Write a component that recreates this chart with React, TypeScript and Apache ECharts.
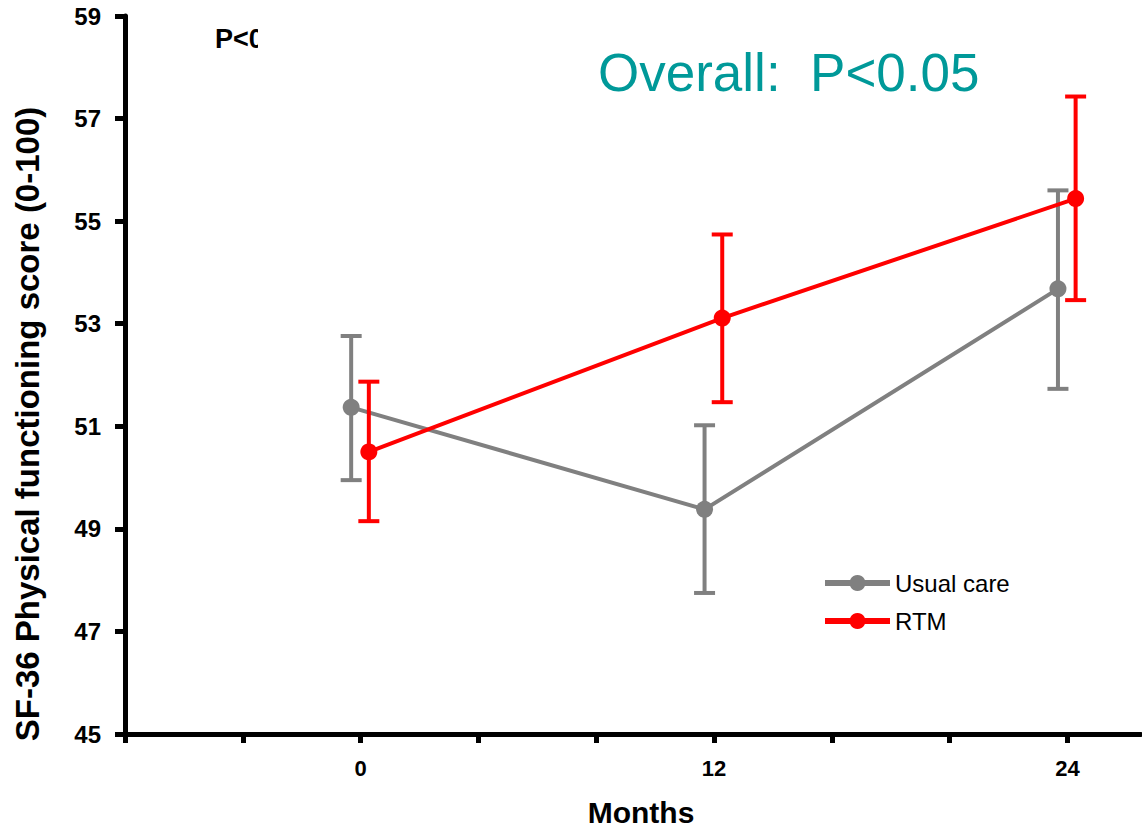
import React, { useEffect, useRef } from "react";
import * as echarts from "echarts";

// ---- data ----
const months = [0, 12, 24];
const usualMean = [51.37, 49.38, 53.68];
const usualLow = [49.95, 47.75, 51.73];
const usualHigh = [52.76, 51.02, 55.6];
const rtmMean = [50.5, 53.11, 55.44];
const rtmLow = [49.15, 51.47, 53.46];
const rtmHigh = [51.87, 54.74, 57.43];
const xTickValues = [-8, -4, 0, 4, 8, 12, 16, 20, 24];
const xLabelValues = [0, 12, 24];
const seriesNames = ["Usual care", "RTM"];

// horizontal dodge of each group (months)
const USUAL_SHIFT = -0.32;
const RTM_SHIFT = 0.28;

const FONT = "'Liberation Sans', Arial, Helvetica, sans-serif";
const GRAY = "#808080";
const RED = "#ff0000";

function meanData(means: number[], shift: number) {
  return months.map((m, i) => [m + shift, means[i]]);
}
function errData(lo: number[], hi: number[], shift: number) {
  return months.map((m, i) => [m + shift, lo[i], hi[i]]);
}

function errorBarRender(color: string) {
  return (params: any, api: any) => {
    const x = api.value(0);
    const lo = api.coord([x, api.value(1)]);
    const hi = api.coord([x, api.value(2)]);
    const half = 10.5;
    const style = { stroke: color, lineWidth: 4, lineCap: "butt" };
    return {
      type: "group",
      children: [
        { type: "line", shape: { x1: lo[0], y1: lo[1], x2: hi[0], y2: hi[1] }, style },
        { type: "line", shape: { x1: hi[0] - half, y1: hi[1], x2: hi[0] + half, y2: hi[1] }, style },
        { type: "line", shape: { x1: lo[0] - half, y1: lo[1], x2: lo[0] + half, y2: lo[1] }, style },
      ],
    };
  };
}

export default function App() {
  const ref = useRef<HTMLDivElement>(null);

  useEffect(() => {
    if (!ref.current) return;
    const chart = echarts.init(ref.current, undefined, { renderer: "svg" });
    const option: any = {
      animation: false,
      backgroundColor: "#ffffff",
      grid: { left: 125, top: 16, bottom: 95, right: 1 },
      xAxis: {
        type: "value",
        min: -8,
        max: 26.5,
        interval: 4,
        splitLine: { show: false },
        axisLine: { show: true, onZero: false, lineStyle: { color: "#000", width: 5 } },
        axisTick: {
          show: true,
          length: 9,
          lineStyle: { color: "#000", width: 5 },
          customValues: xTickValues,
        },
        axisLabel: {
          customValues: xLabelValues,
          margin: 23,
          color: "#000",
          fontSize: 22,
          fontWeight: "bold",
          fontFamily: FONT,
        },
      },
      yAxis: {
        type: "value",
        min: 45,
        max: 59,
        interval: 2,
        splitLine: { show: false },
        axisLine: { show: true, onZero: false, lineStyle: { color: "#000", width: 5 } },
        axisTick: { show: true, length: 10, lineStyle: { color: "#000", width: 5 } },
        axisLabel: {
          margin: 24,
          color: "#000",
          fontSize: 24,
          fontWeight: "bold",
          fontFamily: FONT,
        },
      },
      legend: {
        data: seriesNames,
        orient: "vertical",
        left: 817,
        top: 566,
        itemWidth: 65,
        itemHeight: 20,
        itemGap: 14,
        lineStyle: { width: 6 },
        textStyle: { color: "#000", fontSize: 24, fontFamily: FONT },
      },
      series: [
        {
          name: "Usual care bars",
          type: "custom",
          z: 2,
          renderItem: errorBarRender(GRAY),
          encode: { x: 0, y: [1, 2] },
          data: errData(usualLow, usualHigh, USUAL_SHIFT),
        },
        {
          name: seriesNames[0],
          type: "line",
          z: 3,
          symbol: "circle",
          symbolSize: 17,
          itemStyle: { color: GRAY },
          lineStyle: { color: GRAY, width: 4 },
          data: meanData(usualMean, USUAL_SHIFT),
        },
        {
          name: "RTM bars",
          type: "custom",
          z: 4,
          renderItem: errorBarRender(RED),
          encode: { x: 0, y: [1, 2] },
          data: errData(rtmLow, rtmHigh, RTM_SHIFT),
        },
        {
          name: seriesNames[1],
          type: "line",
          z: 5,
          symbol: "circle",
          symbolSize: 17,
          itemStyle: { color: RED },
          lineStyle: { color: RED, width: 4 },
          data: meanData(rtmMean, RTM_SHIFT),
        },
      ],
      graphic: [
        {
          type: "text",
          x: 27,
          y: 424,
          rotation: Math.PI / 2,
          style: {
            text: "SF-36 Physical functioning score (0-100)",
            fill: "#000",
            font: `bold 33px ${FONT}`,
            textAlign: "center",
            textVerticalAlign: "middle",
          },
        },
        {
          type: "text",
          x: 641,
          y: 812,
          style: {
            text: "Months",
            fill: "#000",
            font: `bold 30px ${FONT}`,
            textAlign: "center",
            textVerticalAlign: "middle",
          },
        },
        {
          type: "text",
          x: 598,
          y: 72,
          style: {
            text: "Overall:  P<0.05",
            fill: "#009999",
            font: `53px ${FONT}`,
            textAlign: "left",
            textVerticalAlign: "middle",
          },
        },
        {
          type: "text",
          x: 215,
          y: 39,
          z: 10,
          style: {
            text: "P<0.05",
            fill: "#000",
            font: `bold 27px ${FONT}`,
            textAlign: "left",
            textVerticalAlign: "middle",
          },
        },
        {
          type: "rect",
          z: 11,
          shape: { x: 258, y: 18, width: 90, height: 44 },
          style: { fill: "#ffffff" },
        },
      ],
    };
    chart.setOption(option);
    return () => chart.dispose();
  }, []);

  return (
    <div
      ref={ref}
      style={{ position: "fixed", left: 0, top: 0, width: 1142, height: 829, background: "#fff" }}
    />
  );
}
